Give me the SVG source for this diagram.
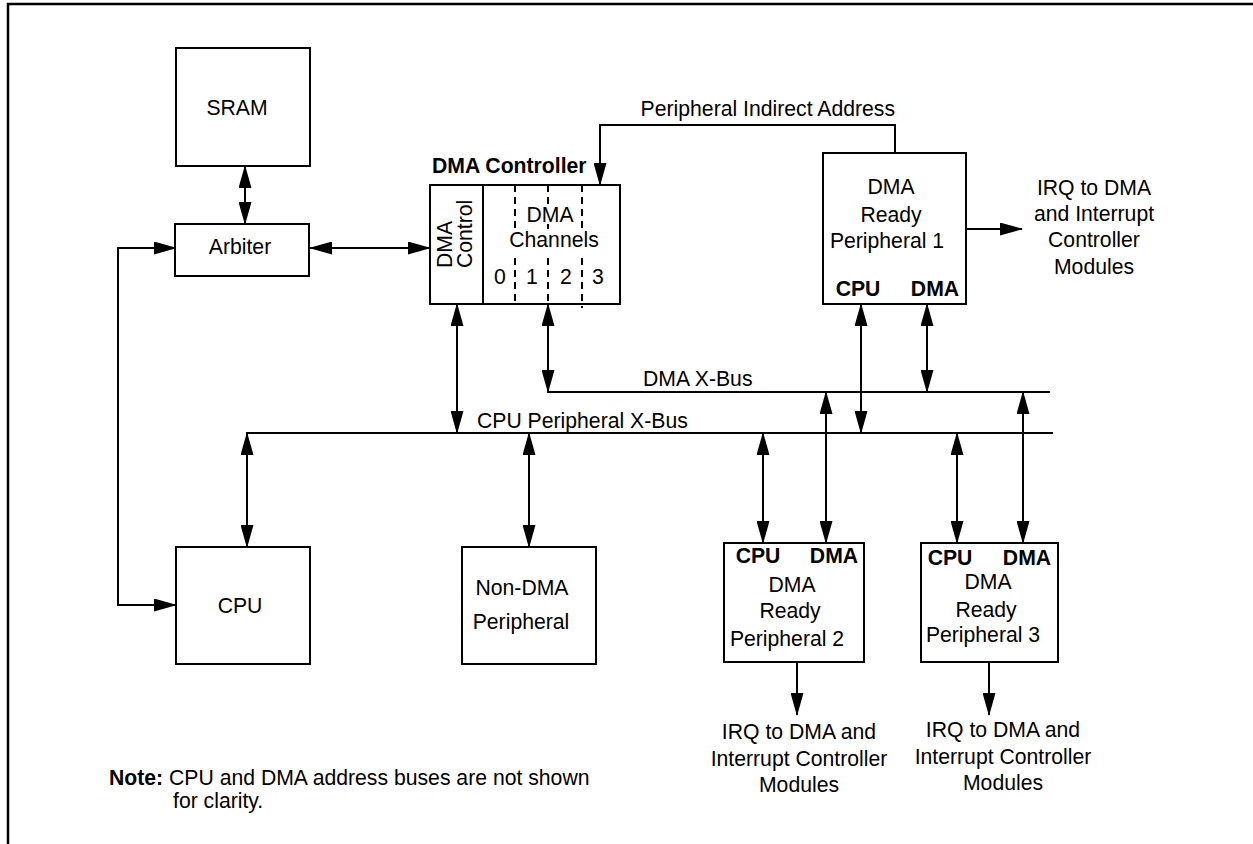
<svg xmlns="http://www.w3.org/2000/svg" width="1253" height="844" viewBox="0 0 1253 844">
<style>
.box{fill:#fff;stroke:#000;stroke-width:2}
.ln{fill:none;stroke:#000;stroke-width:2}
.dash{fill:none;stroke:#000;stroke-width:2;stroke-dasharray:7,5}
text{font-family:"Liberation Sans",Arial,Helvetica,sans-serif;font-size:21.2px;fill:#000}
.c{text-anchor:middle}
.b{font-weight:bold}
</style>
<defs>
<marker id="ah" markerWidth="23" markerHeight="13" refX="22" refY="6.5" orient="auto-start-reverse" markerUnits="userSpaceOnUse">
<path d="M0,0 L23,6.5 L0,13 z" fill="#000"/>
</marker>
</defs>
<rect width="1253" height="844" fill="#fff"/>
<path d="M8,844 V4 H1253" fill="none" stroke="#000" stroke-width="2.5"/>

<g id="connectors">
<path class="ln" d="M245,166 V224" marker-start="url(#ah)" marker-end="url(#ah)"/>
<path class="ln" d="M310,248 H430" marker-start="url(#ah)" marker-end="url(#ah)"/>
<path class="ln" d="M176,248 H118 V605 H176" marker-start="url(#ah)" marker-end="url(#ah)"/>
<path class="ln" d="M895,153 V125 H600 V185" marker-end="url(#ah)"/>
<path class="ln" d="M547,392 H1050"/>
<path class="ln" d="M246,433 H1053"/>
<path class="ln" d="M457,304 V433" marker-start="url(#ah)" marker-end="url(#ah)"/>
<path class="ln" d="M548,304 V392" marker-start="url(#ah)" marker-end="url(#ah)"/>
<path class="ln" d="M247,433 V547" marker-start="url(#ah)" marker-end="url(#ah)"/>
<path class="ln" d="M529,433 V547" marker-start="url(#ah)" marker-end="url(#ah)"/>
<path class="ln" d="M861,304 V433" marker-start="url(#ah)" marker-end="url(#ah)"/>
<path class="ln" d="M927,304 V392" marker-start="url(#ah)" marker-end="url(#ah)"/>
<path class="ln" d="M763,433 V543" marker-start="url(#ah)" marker-end="url(#ah)"/>
<path class="ln" d="M826,392 V543" marker-start="url(#ah)" marker-end="url(#ah)"/>
<path class="ln" d="M957,433 V543" marker-start="url(#ah)" marker-end="url(#ah)"/>
<path class="ln" d="M1023,392 V543" marker-start="url(#ah)" marker-end="url(#ah)"/>
<path class="ln" d="M966,229 H1022" marker-end="url(#ah)"/>
<path class="ln" d="M797,662 V715" marker-end="url(#ah)"/>
<path class="ln" d="M989,662 V715" marker-end="url(#ah)"/>
<text x="895" y="116" style="text-anchor:end">Peripheral Indirect Address</text>
<text x="643" y="386">DMA X-Bus</text>
<text x="477" y="428">CPU Peripheral X-Bus</text>
</g>

<g id="sram">
<rect class="box" x="176" y="48" width="134" height="118"/>
<text class="c" x="237" y="115">SRAM</text>
</g>

<g id="arbiter">
<rect class="box" x="175" y="224" width="134" height="52"/>
<text class="c" x="240" y="254">Arbiter</text>
</g>

<g id="dma-controller">
<text class="b" x="432" y="173">DMA Controller</text>
<rect class="box" x="430" y="185" width="190" height="119"/>
<path class="ln" d="M483,185 V304"/>
<path class="dash" d="M515,185 V229 M515,258 V304"/>
<path class="dash" d="M548,185 V205 M548,224 V229 M548,258 V304"/>
<path class="dash" d="M582,185 V229 M582,258 V308"/>
<text transform="translate(452,268) rotate(-90)">DMA</text>
<text transform="translate(472,268) rotate(-90)">Control</text>
<text class="c" x="550" y="222">DMA</text>
<text class="c" x="554" y="247">Channels</text>
<text class="c" x="500" y="284">0</text>
<text class="c" x="532" y="284">1</text>
<text class="c" x="566" y="284">2</text>
<text class="c" x="598" y="284">3</text>
</g>

<g id="periph1">
<rect class="box" x="823" y="153" width="143" height="151"/>
<text class="c" x="891" y="194">DMA</text>
<text class="c" x="891" y="222">Ready</text>
<text class="c" x="887" y="248">Peripheral 1</text>
<text class="c b" x="858" y="296">CPU</text>
<text class="c b" x="935" y="296">DMA</text>
</g>

<g id="irq1">
<text class="c" x="1094" y="195">IRQ to DMA</text>
<text class="c" x="1094" y="221">and Interrupt</text>
<text class="c" x="1094" y="247">Controller</text>
<text class="c" x="1094" y="274">Modules</text>
</g>

<g id="cpu">
<rect class="box" x="176" y="547" width="134" height="117"/>
<text class="c" x="240" y="613">CPU</text>
</g>

<g id="non-dma">
<rect class="box" x="462" y="547" width="134" height="117"/>
<text class="c" x="522" y="595">Non-DMA</text>
<text class="c" x="521" y="629">Peripheral</text>
</g>

<g id="periph2">
<rect class="box" x="724" y="543" width="140" height="119"/>
<text class="c b" x="758" y="563">CPU</text>
<text class="c b" x="834" y="563">DMA</text>
<text class="c" x="792" y="592">DMA</text>
<text class="c" x="790" y="618">Ready</text>
<text class="c" x="787" y="646">Peripheral 2</text>
</g>

<g id="irq2">
<text class="c" x="799" y="739">IRQ to DMA and</text>
<text class="c" x="799" y="766">Interrupt Controller</text>
<text class="c" x="799" y="792">Modules</text>
</g>

<g id="periph3">
<rect class="box" x="921" y="543" width="137" height="119"/>
<text class="c b" x="950" y="565">CPU</text>
<text class="c b" x="1027" y="565">DMA</text>
<text class="c" x="988" y="589">DMA</text>
<text class="c" x="986" y="617">Ready</text>
<text class="c" x="983" y="642">Peripheral 3</text>
</g>

<g id="irq3">
<text class="c" x="1003" y="737">IRQ to DMA and</text>
<text class="c" x="1003" y="764">Interrupt Controller</text>
<text class="c" x="1003" y="790">Modules</text>
</g>

<g id="note">
<text x="109" y="785"><tspan class="b" font-weight="bold">Note:</tspan> CPU and DMA address buses are not shown</text>
<text x="173" y="808">for clarity.</text>
</g>
</svg>
